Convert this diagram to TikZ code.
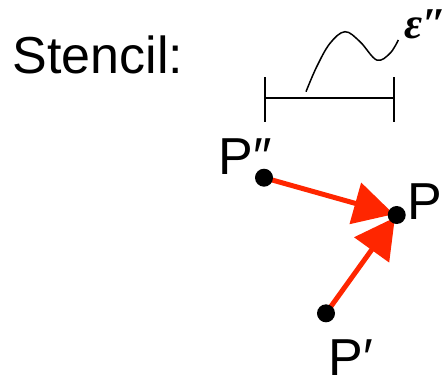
\documentclass[tikz,border=0pt]{standalone}
\usepackage{fontspec}
\setmainfont{Liberation Sans}
\newfontfamily\epsfont{Liberation Serif}
\usetikzlibrary{arrows.meta,backgrounds}
\definecolor{arrowred}{RGB}{255,38,0}
\begin{document}
\begin{tikzpicture}[x=1pt,y=-1pt,
  dot/.style={circle,fill=black,inner sep=0pt,minimum size=18pt},
  lbl/.style={anchor=base west,inner sep=0pt,font=\fontsize{52}{56}\selectfont},
  redarrow/.style={arrowred,line width=5pt,shorten >=3pt,-{Triangle[length=40pt,width=42pt]}}]
\useasboundingbox (0,0) rectangle (444,378);
\node[lbl] (title) at (12.5,73.3) {Stencil:};
\draw[line width=2pt] (265,77) -- (265,122) (394,77) -- (394,122);
\draw[line width=2pt] (265,97.7) -- (394,97.7);
\draw[line width=1.5pt] plot[smooth,tension=0.6] coordinates {(306,91.7) (316.7,66.7) (330,43.3) (345,31.7) (360,41.7) (376.7,60) (390,53.3) (398.3,40)};
\node[anchor=base west,inner sep=0pt,font=\epsfont\bfseries\itshape\fontsize{44}{46}\selectfont] (eps) at (404,38) {ε″};
\node[dot] (P2) at (264,177.7) {};
\node[dot] (P) at (396.7,215) {};
\node[dot] (P1) at (326,313.3) {};
\node[lbl] (lP2) at (218.7,174) {P″};
\node[lbl] (lP) at (407.7,219) {P};
\node[lbl] (lP1) at (328.7,375) {P′};
\begin{scope}[on background layer]
\draw[redarrow] (P2.center) -- (P.center);
\draw[redarrow] (P1.center) -- (P.center);
\end{scope}
\end{tikzpicture}
\end{document}
